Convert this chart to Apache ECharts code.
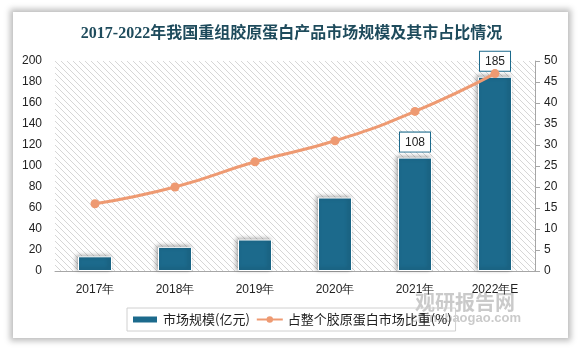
<!DOCTYPE html>
<html>
<head>
<meta charset="utf-8">
<script src="https://cdn.jsdelivr.net/npm/echarts@6/dist/echarts.min.js"></script>
<style>
  html,body{margin:0;padding:0;background:#fff;}
  .card{position:absolute;left:13px;top:12px;width:555px;height:326px;background:#fff;box-shadow:0 0 6px 3px #bdbdbd;}
  #main{position:absolute;left:0;top:0;width:583px;height:352px;}
</style>
</head>
<body>
<div class="card"></div>
<div id="main"></div>
<script>
  var years = ['2017年','2018年','2019年','2020年','2021年','2022年E'];
  var marketSize = [14, 23, 30, 70, 108, 185];   // 亿元
  var marketShare = [16, 20, 26, 31, 38, 47];    // %
  var labelShown = [false, false, false, false, true, true];

  // 斜线底纹
  var pat = document.createElement('canvas');
  pat.width = 6; pat.height = 6;
  var ctx = pat.getContext('2d');
  ctx.fillStyle = '#ffffff';
  ctx.fillRect(0, 0, 6, 6);
  ctx.strokeStyle = '#d6d6d6';
  ctx.lineWidth = 1;
  ctx.beginPath();
  ctx.moveTo(-1, -1); ctx.lineTo(7, 7);
  ctx.moveTo(-7, -1); ctx.lineTo(1, 7);
  ctx.moveTo(5, -1); ctx.lineTo(13, 7);
  ctx.stroke();

  var myChart = echarts.init(document.getElementById('main'));
  var option = {
    title: {
      text: '2017-2022年我国重组胶原蛋白产品市场规模及其市占比情况',
      left: 'center',
      top: 21,
      textStyle: {
        fontFamily: '"Liberation Serif", "Noto Sans CJK SC"',
        fontSize: 16,
        fontWeight: 'bold',
        color: '#1e4b5c'
      }
    },
    legend: {
      bottom: 21,
      left: 127,
      itemGap: 6,
      itemWidth: 26,
      itemHeight: 8,
      borderColor: '#d0d0d0',
      borderWidth: 1,
      padding: [5, 4],
      borderRadius: 0,
      textStyle: {fontSize: 13, color: '#222', fontFamily: 'Noto Sans CJK SC'},
      data: [
        {name: '市场规模(亿元)', icon: 'rect'},
        {name: '占整个胶原蛋白市场比重(%)'}
      ]
    },
    grid: {
      left: 55,
      right: 48,
      top: 61,
      bottom: 81,
      show: true,
      borderWidth: 0,
      backgroundColor: {image: pat, repeat: 'repeat'}
    },
    xAxis: {
      type: 'category',
      data: years,
      axisLine: {lineStyle: {color: '#a6a6a6', width: 1}},
      axisTick: {show: false},
      axisLabel: {color: '#222', fontSize: 12, margin: 13}
    },
    yAxis: [
      {
        type: 'value',
        min: 0, max: 200, interval: 20,
        axisLine: {show: false},
        axisTick: {show: false},
        splitLine: {show: false},
        axisLabel: {color: '#222', fontSize: 12, margin: 13}
      },
      {
        type: 'value',
        min: 0, max: 50, interval: 5,
        axisLine: {show: true, lineStyle: {color: '#a6a6a6'}},
        axisTick: {show: true, length: 5, lineStyle: {color: '#a6a6a6'}},
        splitLine: {show: false},
        axisLabel: {color: '#222', fontSize: 12, margin: 9}
      }
    ],
    series: [
      {
        name: '市场规模(亿元)',
        type: 'bar',
        barWidth: 34,
        itemStyle: {
          color: '#1c6a8c',
          borderColor: '#ffffff',
          borderWidth: 1,
          shadowColor: 'rgba(0,0,0,0.35)',
          shadowBlur: 4,
          shadowOffsetX: -2,
          shadowOffsetY: -1
        },
        data: marketSize.map(function (v, i) {
          return {
            value: v,
            label: {
              show: labelShown[i],
              position: 'top',
              distance: 6,
              color: '#222',
              fontSize: 12,
              backgroundColor: '#fff',
              borderColor: '#1c6a8c',
              borderWidth: 1,
              padding: [4, 5, 3, 5]
            }
          };
        })
      },
      {
        name: '占整个胶原蛋白市场比重(%)',
        type: 'line',
        yAxisIndex: 1,
        smooth: true,
        symbol: 'circle',
        symbolSize: 9,
        lineStyle: {color: '#ee9a72', width: 3},
        itemStyle: {color: '#ee9a72'},
        data: marketShare
      }
    ],
    graphic: [
      {
        type: 'text',
        right: 68,
        bottom: 40,
        style: {text: '观研报告网', fontSize: 20, fontWeight: 'bold', fill: 'rgba(150,150,150,0.5)', fontFamily: 'Noto Sans CJK SC'}
      },
      {
        type: 'text',
        right: 62,
        bottom: 27,
        style: {text: 'chinabaogao.com', fontSize: 13, fontWeight: 'bold', fill: 'rgba(150,150,150,0.5)'}
      }
    ]
  };
  myChart.setOption(option);
</script>
</body>
</html>
